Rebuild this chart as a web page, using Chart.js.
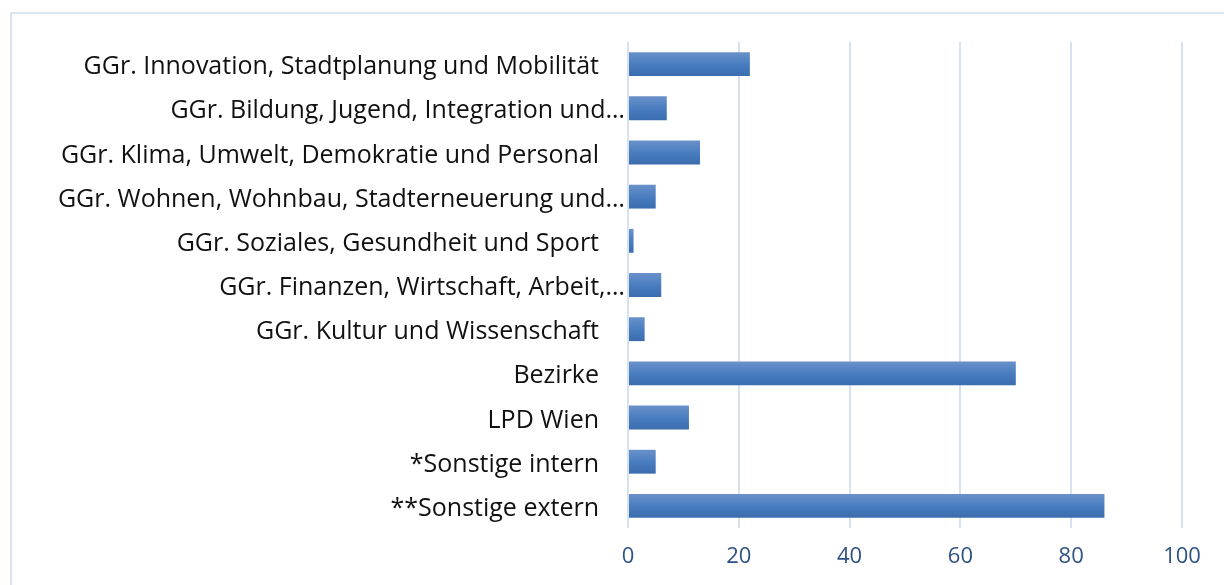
<!DOCTYPE html>
<html>
<head>
<meta charset="utf-8">
<script src="https://cdn.jsdelivr.net/npm/chart.js@4"></script>
<style>
  html, body { margin: 0; padding: 0; background: #fff; }
  body { width: 1224px; height: 585px; position: relative; overflow: hidden; }
  #frame { position: absolute; left: 10px; top: 12px; width: 1400px; height: 800px; border: 2px solid #DCE5F3; box-sizing: border-box; }
  #wrap { position: absolute; left: 0; top: 0; width: 1224px; height: 585px; }
</style>
</head>
<body>
<div id="frame"></div>
<div id="wrap"><canvas id="c" width="1224" height="585"></canvas></div>
<script>
const categories = [
  "GGr. Innovation, Stadtplanung und Mobilität",
  "GGr. Bildung, Jugend, Integration und…",
  "GGr. Klima, Umwelt, Demokratie und Personal",
  "GGr. Wohnen, Wohnbau, Stadterneuerung und…",
  "GGr. Soziales, Gesundheit und Sport",
  "GGr. Finanzen, Wirtschaft, Arbeit,…",
  "GGr. Kultur und Wissenschaft",
  "Bezirke",
  "LPD Wien",
  "*Sonstige intern",
  "**Sonstige extern"
];
const values = [22, 7, 13, 5, 1, 6, 3, 70, 11, 5, 86];
const xTicks = [0, 20, 40, 60, 80, 100];
const BAR_PCT = 0.54;

function barFill(context) {
  const chart = context.chart;
  const ys = chart.scales && chart.scales.y;
  if (!ys || !chart.chartArea || ys.height <= 0) return '#4A7EBF';
  const c = ys.getPixelForValue(context.dataIndex);
  const half = (ys.height / categories.length) * BAR_PCT / 2;
  const g = chart.ctx.createLinearGradient(0, c - half, 0, c + half);
  g.addColorStop(0, '#6A91C9');
  g.addColorStop(0.5, '#4A7EC0');
  g.addColorStop(1, '#3A6CAE');
  return g;
}

new Chart(document.getElementById('c'), {
  type: 'bar',
  data: {
    labels: categories,
    datasets: [{ data: values, backgroundColor: barFill, borderWidth: 0, barPercentage: BAR_PCT, categoryPercentage: 1 }]
  },
  options: {
    indexAxis: 'y',
    responsive: false,
    animation: false,
    devicePixelRatio: 1,
    layout: { padding: { top: 42, right: 42, left: 0, bottom: 0 } },
    plugins: { legend: { display: false }, tooltip: { enabled: false } },
    scales: {
      x: {
        min: 0, max: 100,
        afterBuildTicks(scale) { scale.ticks = xTicks.map(v => ({ value: v })); },
        afterFit(scale) { scale.height = 57; },
        grid: { color: '#D6E1F1', lineWidth: 2, drawTicks: false },
        border: { display: false },
        ticks: { color: '#2F5286', font: { family: 'Open Sans', size: 22 }, padding: 16 }
      },
      y: {
        afterFit(scale) { scale.width = 628; },
        grid: { display: false, drawTicks: false },
        border: { display: false },
        ticks: {
          color: '#111',
          font: { family: 'Open Sans', size: 25 },
          padding: 3,
          labelOffset: 3,
          callback(v, i) {
            const l = categories[i];
            return l.endsWith('…') ? l : l + '    ';
          }
        }
      }
    }
  }
});
</script>
</body>
</html>
